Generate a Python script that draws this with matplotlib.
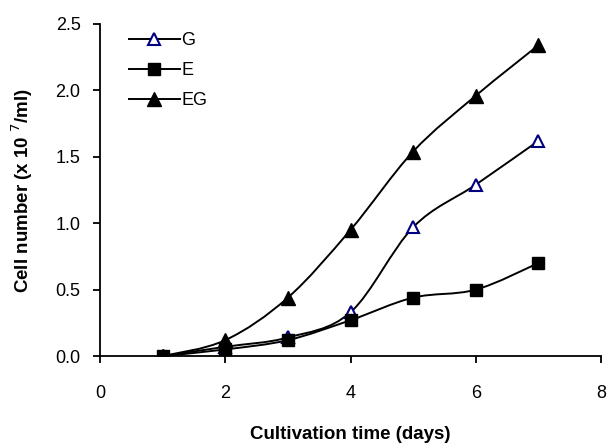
import numpy as np
import matplotlib
matplotlib.use("Agg")
import matplotlib.pyplot as plt
from matplotlib.path import Path
from matplotlib.patches import PathPatch

plt.rcParams["font.family"] = ["Liberation Sans", "DejaVu Sans"]

days = [1, 2, 3, 4, 5, 6, 7]
g_vals = [0.0, 0.07, 0.14, 0.33, 0.97, 1.29, 1.62]
e_vals = [0.0, 0.05, 0.12, 0.27, 0.44, 0.50, 0.70]
eg_vals = [0.0, 0.12, 0.44, 0.95, 1.54, 1.96, 2.34]
NAVY = "#000080"


def smooth_path(x, y, t=1 / 6):
    """Catmull-Rom style bezier through the points (like Excel smoothed line)."""
    x = np.asarray(x, float); y = np.asarray(y, float)
    verts = [(x[0], y[0])]; codes = [Path.MOVETO]
    n = len(x)
    for i in range(n - 1):
        p0 = (x[max(i - 1, 0)], y[max(i - 1, 0)])
        p1 = (x[i], y[i]); p2 = (x[i + 1], y[i + 1])
        p3 = (x[min(i + 2, n - 1)], y[min(i + 2, n - 1)])
        c1 = (p1[0] + (p2[0] - p0[0]) * t, p1[1] + (p2[1] - p0[1]) * t)
        c2 = (p2[0] - (p3[0] - p1[0]) * t, p2[1] - (p3[1] - p1[1]) * t)
        verts += [c1, c2, p2]; codes += [Path.CURVE4] * 3
    return Path(verts, codes)


fig = plt.figure(figsize=(6.08, 4.44), dpi=100)
ax = fig.add_axes([0.1645, 0.198, 0.824, 0.748])

series = [
    ("G", g_vals, dict(marker="^", mfc="white", mec=NAVY, mew=1.5, ms=9)),
    ("E", e_vals, dict(marker="s", mfc="black", mec="black", ms=8.5)),
    ("EG", eg_vals, dict(marker="^", mfc="black", mec="black", ms=9.5)),
]
for name, vals, mk in series:
    ax.add_patch(PathPatch(smooth_path(days, vals), fill=False, color="black", lw=1.4, zorder=2))
    ax.plot(days, vals, ls="none", zorder=3, **mk)
    ax.plot([], [], color="black", lw=1.4, label=name, **mk)

ax.set_xlim(0, 8)
ax.set_ylim(0, 2.5)
ax.set_xticks([0, 2, 4, 6, 8])
ax.set_yticks([0.0, 0.5, 1.0, 1.5, 2.0, 2.5])
ax.set_yticklabels([f"{v:.1f}" for v in [0.0, 0.5, 1.0, 1.5, 2.0, 2.5]])
ax.tick_params(direction="out", length=5, width=1.3, labelsize=13, colors="black")
ax.tick_params(axis="y", pad=9)
ax.tick_params(axis="x", pad=16)
for s in ("top", "right"):
    ax.spines[s].set_visible(False)
for s in ("left", "bottom"):
    ax.spines[s].set_linewidth(1.3)

ax.set_xlabel("Cultivation time (days)", fontsize=13.5, fontweight="bold", labelpad=17)
ax.set_ylabel("Cell number (x 10 $^{7}$/ml)", fontsize=13.5, fontweight="bold", labelpad=15)

leg = ax.legend(loc="upper left", bbox_to_anchor=(129 / 608, 1 - 32 / 444),
                bbox_transform=fig.transFigure, frameon=False, fontsize=13,
                handlelength=2.8, handletextpad=0.1, labelspacing=0.72,
                borderaxespad=0, borderpad=0)

fig.savefig("out.png", dpi=100)
